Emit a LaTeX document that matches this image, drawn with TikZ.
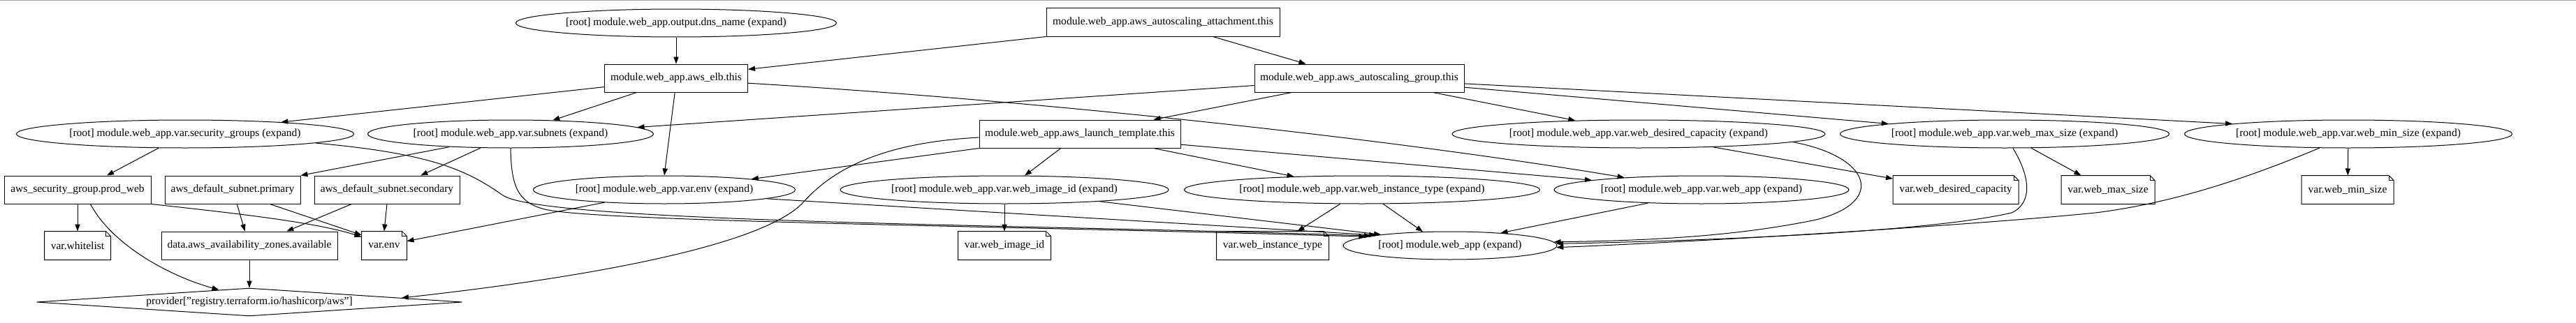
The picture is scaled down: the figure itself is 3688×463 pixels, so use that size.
\documentclass[tikz,border=0pt]{standalone}
\usepackage{fontspec}
\setmainfont{Liberation Serif}
\usetikzlibrary{shapes.geometric,arrows.meta}
\newcommand{\zwtext}[1]{\makebox[0pt]{#1}}
\definecolor{toprule}{RGB}{165,165,165}
\begin{document}
\begin{tikzpicture}[x=0.9pt,y=-0.9pt,
  every node/.style={font=\fontsize{14pt}{16pt}\selectfont, inner sep=0pt, minimum height=36pt, line width=0.9pt},
  ell/.style={draw, ellipse},
  boxn/.style={draw, rectangle},
  notebox/.style={rectangle},
  edge/.style={line width=0.9pt, -{Triangle[length=9pt,width=6.5pt]}}
]
\fill[white] (0,0) rectangle (3688,463);
\useasboundingbox (0,0) rectangle (3688,463);
\draw[toprule, line width=0.9pt] (0,0.5) -- (3688,0.5);

% row 0
\node[ell, minimum width=459*0.9pt] (dns) at (968,33) {\zwtext{[root] module.web\_app.output.dns\_name (expand)}};
\node[boxn, minimum width=334*0.9pt] (att) at (1665,32) {\zwtext{module.web\_app.aws\_autoscaling\_attachment.this}};
% row 1
\node[boxn, minimum width=205*0.9pt] (elb) at (968,112) {\zwtext{module.web\_app.aws\_elb.this}};
\node[boxn, minimum width=300*0.9pt] (asg) at (1946,112) {\zwtext{module.web\_app.aws\_autoscaling\_group.this}};
% row 2
\node[ell, minimum width=483*0.9pt] (sg) at (265,192) {\zwtext{[root] module.web\_app.var.security\_groups (expand)}};
\node[ell, minimum width=409*0.9pt] (subn) at (731,192) {\zwtext{[root] module.web\_app.var.subnets (expand)}};
\node[boxn, minimum width=288*0.9pt] (lt) at (1546,192) {\zwtext{module.web\_app.aws\_launch\_template.this}};
\node[ell, minimum width=534*0.9pt] (wdc) at (2346,192) {\zwtext{[root] module.web\_app.var.web\_desired\_capacity (expand)}};
\node[ell, minimum width=471*0.9pt] (wmax) at (2870,192) {\zwtext{[root] module.web\_app.var.web\_max\_size (expand)}};
\node[ell, minimum width=469*0.9pt] (wmin) at (3362,192) {\zwtext{[root] module.web\_app.var.web\_min\_size (expand)}};
% row 3
\node[boxn, minimum width=210*0.9pt] (pw) at (111,272) {\zwtext{aws\_security\_group.prod\_web}};
\node[boxn, minimum width=194*0.9pt] (prim) at (333,272) {\zwtext{aws\_default\_subnet.primary}};
\node[boxn, minimum width=208*0.9pt] (sec) at (554,272) {\zwtext{aws\_default\_subnet.secondary}};
\node[ell, minimum width=375*0.9pt] (envx) at (951,272) {\zwtext{[root] module.web\_app.var.env (expand)}};
\node[ell, minimum width=470*0.9pt] (imgx) at (1438,272) {\zwtext{[root] module.web\_app.var.web\_image\_id (expand)}};
\node[ell, minimum width=509*0.9pt] (itx) at (1950,272) {\zwtext{[root] module.web\_app.var.web\_instance\_type (expand)}};
\node[ell, minimum width=422*0.9pt] (wax) at (2436,272) {\zwtext{[root] module.web\_app.var.web\_app (expand)}};
\node[notebox, minimum width=179*0.9pt] (vwdc) at (2800,272) {\zwtext{var.web\_desired\_capacity}};
\node[notebox, minimum width=133*0.9pt] (vmax) at (3018,272) {\zwtext{var.web\_max\_size}};
\node[notebox, minimum width=131*0.9pt] (vmin) at (3361,272) {\zwtext{var.web\_min\_size}};
% row 4
\node[notebox, minimum width=94*0.9pt] (vwl) at (111,352) {\zwtext{var.whitelist}};
\node[boxn, minimum width=252*0.9pt] (az) at (357,352) {\zwtext{data.aws\_availability\_zones.available}};
\node[notebox, minimum width=64*0.9pt] (venv) at (550,352) {\zwtext{var.env}};
\node[notebox, minimum width=132*0.9pt] (vimg) at (1438,352) {\zwtext{var.web\_image\_id}};
\node[notebox, minimum width=160*0.9pt] (vit) at (1822,352) {\zwtext{var.web\_instance\_type}};
\node[ell, minimum width=306*0.9pt] (mod) at (2076,352) {\zwtext{[root] module.web\_app (expand)}};
% row 5
\node[draw, diamond, aspect=15, minimum width=609*0.9pt, minimum height=36pt] (prov) at (357,433) {\zwtext{provider["registry.terraform.io/hashicorp/aws"]}};

% note outlines
\foreach \n in {vwl,venv,vimg,vit,vwdc,vmax,vmin} {
  \draw[line width=0.9pt] (\n.south west) -- (\n.north west) -- ([xshift=-6.3pt]\n.north east)
     -- ([yshift=-6.3pt]\n.north east) -- (\n.south east) -- cycle;
  \draw[line width=0.6pt] ([xshift=-6.3pt]\n.north east) -- ([xshift=-6.3pt,yshift=-6.3pt]\n.north east)
     -- ([yshift=-6.3pt]\n.north east);
}

% edges
\draw[edge] (dns) -- (elb);
\draw[edge] (att.south west) -- (elb.7);
\draw[edge] (att.344) -- (asg.165);
\draw[edge] (elb.187) -- (sg.7);
\draw[edge] (elb.200) -- (subn.18);
\draw[edge] (elb.265) -- (envx.north);
\draw[edge] (elb.356) .. controls (1500,145) and (2000,200) .. (wax.171);
\draw[edge] (asg.184) -- (subn.3);
\draw[edge] (asg.192) -- (lt.11);
\draw[edge] (asg.349) -- (wdc.168);
\draw[edge] (asg.355) -- (wmax.175);
\draw[edge] (asg.357) -- (wmin.175);
\draw[edge] (lt.354) -- (wax.175);
\draw[edge] (lt.south west) -- (envx.7);
\draw[edge] (lt.217) -- (imgx.35);
\draw[edge] (lt.349) -- (itx.169);
\draw[edge] (lt.182) .. controls (1250,205) and (1186,250) .. (1150,290)
   .. controls (1090,355) and (820,400) .. ([shift={(218,-6)}]prov.center);
\draw[edge] (sg.208) -- (pw.26);
\draw[edge] (sg.356) .. controls (620,220) and (670,245) .. (720,280)
   .. controls (780,320) and (1500,322) .. (mod.173);
\draw[edge] (subn.192) -- (prim.north east);
\draw[edge] (subn.205) -- (sec.23);
\draw[edge] (subn.south) .. controls (732,265) and (740,290) .. (780,300)
   .. controls (850,318) and (1500,325) .. (mod.174);
\draw[edge] (pw) -- (vwl);
\draw[edge] (pw.312) .. controls (160,350) and (240,395) .. (prov.158);
\draw[edge] (pw.south east) .. controls (330,305) and (450,318) .. (venv.159);
\draw[edge] (prim.339) -- (venv.155);
\draw[edge] (prim.287) -- (az.107);
\draw[edge] (sec.202) -- (az.21);
\draw[edge] (sec.south) -- (venv.north);
\draw[edge] (envx.192) -- (venv.11);
\draw[edge] (envx.355) -- (mod.172);
\draw[edge] (az) -- (prov);
\draw[edge] (imgx) -- (vimg);
\draw[edge] (imgx.353) -- (mod.171);
\draw[edge] (itx.213) -- (vit.30);
\draw[edge] (itx.326) -- (mod.153);
\draw[edge] (wax.194) -- (mod.14);
\draw[edge] (wdc.350) -- (vwdc.170);
\draw[edge] (wdc.357) .. controls (2680,225) and (2700,290) .. (2600,315)
   .. controls (2480,340) and (2350,345) .. (mod.2);
\draw[edge] (wmax.332) -- (vmax.152);
\draw[edge] (wmax.300) .. controls (2905,250) and (2912,290) .. (2880,305)
   .. controls (2750,335) and (2400,346) .. (mod.1);
\draw[edge] (wmin) -- (vmin);
\draw[edge] (wmin.206) .. controls (3230,250) and (3120,290) .. (3000,305)
   .. controls (2800,325) and (2400,348) .. (mod.359);
\end{tikzpicture}
\end{document}
